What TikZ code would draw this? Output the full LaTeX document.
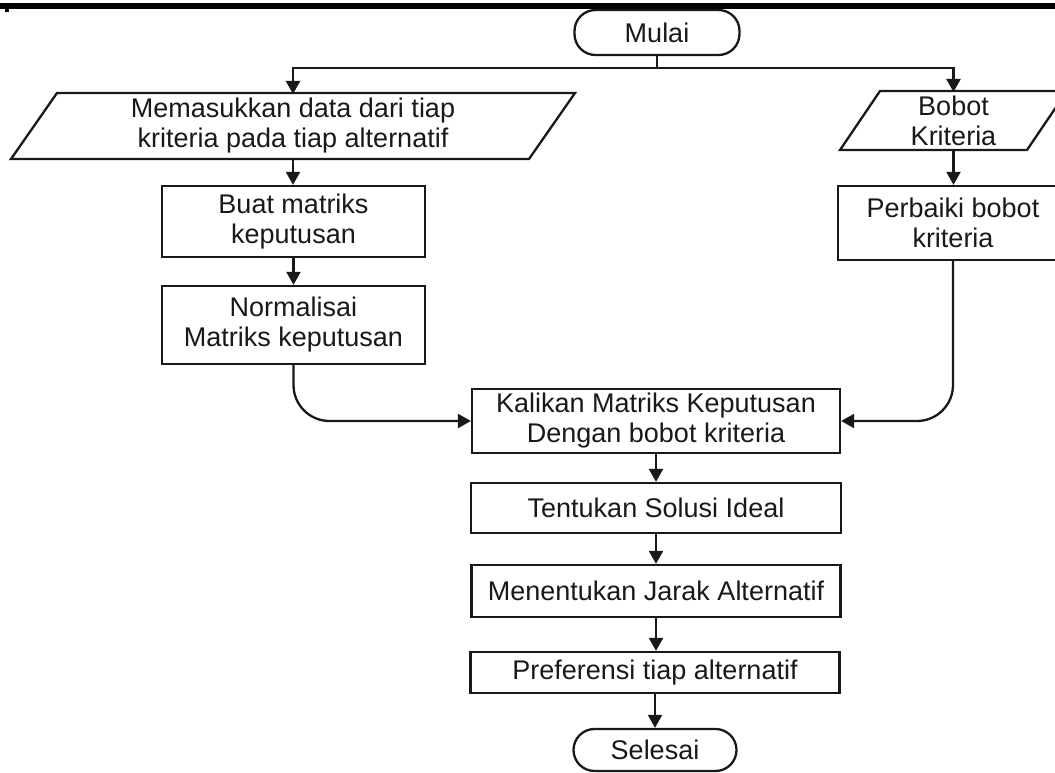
\documentclass[tikz,border=0pt]{standalone}
\usepackage{fontspec}
\setmainfont{Liberation Sans}
\usetikzlibrary{arrows.meta}
\definecolor{ink}{RGB}{25,25,25}
\begin{document}
\begin{tikzpicture}[x=1pt,y=-1pt,
  every node/.style={font=\fontsize{27}{30}\selectfont, text=ink, align=center, inner sep=1pt},
  box/.style={draw=ink, line width=2.3pt, rectangle, minimum width=#1},
  term/.style={draw=ink, line width=2.3pt, rectangle, rounded corners=21pt, minimum width=165pt, minimum height=45pt},
  iobody/.style={rectangle, outer sep=0pt},
  link/.style={draw=ink, line width=2.3pt},
  outline/.style={draw=ink, line width=2.3pt, line join=miter},
  arr/.style={link, -{Triangle[length=13pt,width=14pt]}}
]
\fill[white] (0,0) rectangle (1055,773);
\useasboundingbox (0,0) rectangle (1055,773);
\fill[black] (0,3) rectangle (1055,9);
\fill[black] (5,9) rectangle (9,12);

\node[term] (mulai) at (657,32.5) {Mulai};
\node[iobody, minimum width=518pt, minimum height=66pt] (data) at (293,126) {Memasukkan data dari tiap\\kriteria pada tiap alternatif};
\draw[outline] ([xshift=23pt]data.north west) -- ([xshift=23pt]data.north east) -- ([xshift=-23pt]data.south east) -- ([xshift=-23pt]data.south west) -- cycle;
\node[iobody, minimum width=187pt, minimum height=59pt] (bobot) at (953.5,120.5) {Bobot\\Kriteria};
\draw[outline] ([xshift=20pt]bobot.north west) -- ([xshift=20pt]bobot.north east) -- ([xshift=-20pt]bobot.south east) -- ([xshift=-20pt]bobot.south west) -- cycle;
\node[box=263pt, minimum height=71pt] (buat) at (293.5,221.5) {Buat matriks\\keputusan};
\node[box=263pt, minimum height=78pt] (norm) at (293.5,325) {Normalisai\\Matriks keputusan};
\node[box=230pt, minimum height=74pt] (perb) at (953,223) {Perbaiki bobot\\kriteria};
\node[box=368pt, minimum height=64pt] (kali) at (656,421) {Kalikan Matriks Keputusan\\Dengan bobot kriteria};
\node[box=370pt, minimum height=50pt] (tent) at (656,508) {Tentukan Solusi Ideal};
\node[box=369pt, minimum height=52pt] (ment) at (656,591) {Menentukan Jarak Alternatif};
\node[box=369pt, minimum height=41pt] (pref) at (655,672.5) {Preferensi tiap alternatif};
\node[term, minimum width=163pt, minimum height=42pt] (sel) at (655,750) {Selesai};

\coordinate (split) at (657,68);
\draw[link] (mulai.south) -- (split);
\draw[arr] (split) -| ([yshift=-1pt]data.north);
\draw[arr] (split) -| ([yshift=-1pt]bobot.north);
\draw[arr] (data.south) -- (data.south |- buat.north);
\draw[arr] (buat) -- (norm);
\draw[arr] (bobot.south) -- (bobot.south |- perb.north);
\draw[arr, rounded corners=36pt] (norm.south) |- (kali.west);
\draw[arr, rounded corners=36pt] (perb.south) |- (kali.east);
\draw[arr] (kali) -- (tent);
\draw[arr] (tent) -- (ment);
\draw[arr] (ment.south) -- (ment.south |- pref.north);
\draw[arr] (pref) -- (sel);
\end{tikzpicture}
\end{document}
